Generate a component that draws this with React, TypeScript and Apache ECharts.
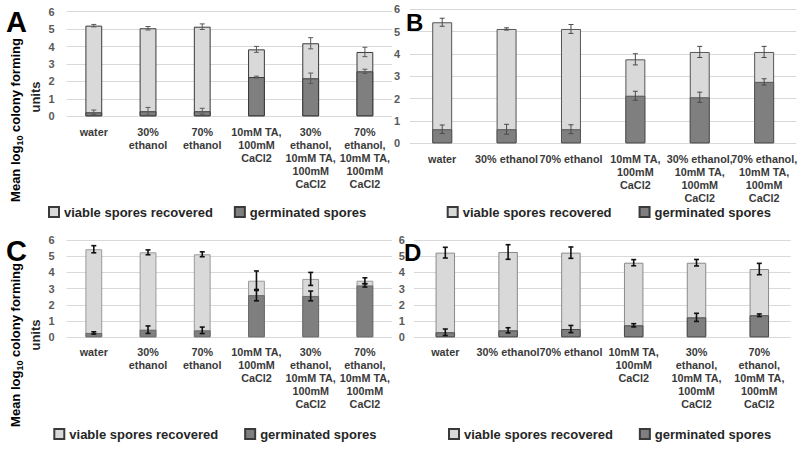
import React, { useEffect, useRef } from 'react';
import * as echarts from 'echarts';

const FONT = '"Liberation Sans", Arial, Helvetica, sans-serif';
const VIABLE = 'viable spores recovered';
const GERM = 'germinated spores';

const yTicks = [0, 6, 1]; // min, max, interval

const catsNarrow = [
  'water',
  '30%\nethanol',
  '70%\nethanol',
  '10mM TA,\n100mM\nCaCl2',
  '30%\nethanol,\n10mM TA,\n100mM\nCaCl2',
  '70%\nethanol,\n10mM TA,\n100mM\nCaCl2',
];
const catsB = [
  'water',
  '30% ethanol',
  '70% ethanol',
  '10mM TA,\n100mM\nCaCl2',
  '30% ethanol,\n10mM TA,\n100mM\nCaCl2',
  '70% ethanol,\n10mM TA,\n100mM\nCaCl2',
];
const catsD = [
  'water',
  '30% ethanol',
  '70% ethanol',
  '10mM TA,\n100mM\nCaCl2',
  '30%\nethanol,\n10mM TA,\n100mM\nCaCl2',
  '70%\nethanol,\n10mM TA,\n100mM\nCaCl2',
];

const viableA = [5.2, 5.05, 5.14, 3.84, 4.19, 3.69];
const viableErrA = [0.07, 0.1, 0.16, 0.17, 0.32, 0.27];
const germA = [0.23, 0.29, 0.29, 2.25, 2.18, 2.58];
const germErrA = [0.13, 0.22, 0.17, 0.05, 0.3, 0.12];

const viableB = [5.42, 5.12, 5.12, 3.76, 4.09, 4.09];
const viableErrB = [0.18, 0.05, 0.2, 0.25, 0.25, 0.25];
const germB = [0.63, 0.63, 0.63, 2.13, 2.06, 2.75];
const germErrB = [0.19, 0.22, 0.2, 0.2, 0.23, 0.14];

const viableC = [5.43, 5.24, 5.12, 3.49, 3.6, 3.49];
const viableErrC = [0.22, 0.15, 0.15, 0.6, 0.4, 0.18];
const germC = [0.27, 0.47, 0.43, 2.6, 2.55, 3.2];
const germErrC = [0.07, 0.23, 0.2, 0.35, 0.3, 0.1];

const viableD = [5.22, 5.26, 5.22, 4.6, 4.6, 4.21];
const viableErrD = [0.33, 0.45, 0.35, 0.19, 0.2, 0.35];
const germD = [0.31, 0.43, 0.51, 0.74, 1.23, 1.36];
const germErrD = [0.2, 0.16, 0.22, 0.1, 0.25, 0.08];

type Panel = {
  cats: string[];
  viable: number[];
  viableErr: number[];
  germ: number[];
  germErr: number[];
  grid: { left: number; top: number; width: number; height: number };
  yLabelMargin: number;
  xLabelMargin: number;
  lightBorder: string;
  darkBorder: string;
  errColor: string;
  errWidth: number;
  legend: { left: number; top: number; gap: number };
};

const panels: Panel[] = [
  {
    cats: catsNarrow, viable: viableA, viableErr: viableErrA, germ: germA, germErr: germErrA,
    grid: { left: 66.7, top: 11.7, width: 325.3, height: 104.6 },
    yLabelMargin: 12, xLabelMargin: 9,
    lightBorder: '#3a3a3a', darkBorder: '#3a3a3a', errColor: '#5a5a5a', errWidth: 1,
    legend: { left: 48, top: 205.5, gap: 21 },
  },
  {
    cats: catsB, viable: viableB, viableErr: viableErrB, germ: germB, germErr: germErrB,
    grid: { left: 410, top: 9.3, width: 388, height: 134 },
    yLabelMargin: 10, xLabelMargin: 9,
    lightBorder: '#555555', darkBorder: '#555555', errColor: '#4a4a4a', errWidth: 1,
    legend: { left: 446.7, top: 205.5, gap: 27 },
  },
  {
    cats: catsNarrow, viable: viableC, viableErr: viableErrC, germ: germC, germErr: germErrC,
    grid: { left: 66.7, top: 240, width: 325.3, height: 97.3 },
    yLabelMargin: 12, xLabelMargin: 8,
    lightBorder: '#9a9a9a', darkBorder: '#6a6a6a', errColor: '#111111', errWidth: 1.6,
    legend: { left: 53.3, top: 427.5, gap: 26 },
  },
  {
    cats: catsD, viable: viableD, viableErr: viableErrD, germ: germD, germErr: germErrD,
    grid: { left: 413.9, top: 240, width: 376.8, height: 97.3 },
    yLabelMargin: 9, xLabelMargin: 8,
    lightBorder: '#8a8a8a', darkBorder: '#4a4a4a', errColor: '#111111', errWidth: 1.6,
    legend: { left: 448, top: 427.5, gap: 26 },
  },
];

function errSeries(i: number, vals: number[], errs: number[], color: string, lw: number) {
  return {
    type: 'custom',
    xAxisIndex: i,
    yAxisIndex: i,
    silent: true,
    z: 5,
    data: vals.map((v, k) => [k, v - errs[k], v + errs[k]]),
    encode: { x: 0, y: [1, 2] },
    renderItem: (params: any, api: any) => {
      const x = api.value(0);
      const a = api.coord([x, api.value(2)]);
      const b = api.coord([x, api.value(1)]);
      const h = 2.5;
      const style = { stroke: color, lineWidth: lw };
      return {
        type: 'group',
        children: [
          { type: 'line', shape: { x1: a[0], y1: a[1], x2: b[0], y2: b[1] }, style },
          { type: 'line', shape: { x1: a[0] - h, y1: a[1], x2: a[0] + h, y2: a[1] }, style },
          { type: 'line', shape: { x1: b[0] - h, y1: b[1], x2: b[0] + h, y2: b[1] }, style },
        ],
      };
    },
  };
}

function buildOption() {
  const grid: any[] = [];
  const xAxis: any[] = [];
  const yAxis: any[] = [];
  const series: any[] = [];
  const legend: any[] = [];

  panels.forEach((p, i) => {
    grid.push({ ...p.grid, containLabel: false });
    xAxis.push({
      type: 'category',
      gridIndex: i,
      data: p.cats,
      axisLine: { show: false },
      axisTick: { show: false },
      axisLabel: {
        interval: 0,
        margin: p.xLabelMargin,
        fontFamily: FONT,
        fontWeight: 'bold',
        fontSize: 10.8,
        lineHeight: 13,
        color: '#3a3a3a',
      },
    });
    yAxis.push({
      type: 'value',
      gridIndex: i,
      min: yTicks[0],
      max: yTicks[1],
      interval: yTicks[2],
      axisLine: { show: false },
      axisTick: { show: false },
      splitLine: { lineStyle: { color: '#d9d9d9', width: 1 } },
      axisLabel: {
        margin: p.yLabelMargin,
        fontFamily: FONT,
        fontWeight: 'bold',
        fontSize: 11,
        color: '#595959',
      },
    });
    series.push({
      type: 'bar',
      name: VIABLE,
      xAxisIndex: i,
      yAxisIndex: i,
      data: p.viable,
      barWidth: '31%',
      barGap: '-100%',
      itemStyle: { color: '#d9d9d9', borderColor: p.lightBorder, borderWidth: 1 },
    });
    series.push({
      type: 'bar',
      name: GERM,
      xAxisIndex: i,
      yAxisIndex: i,
      data: p.germ,
      barWidth: '31%',
      barGap: '-100%',
      itemStyle: { color: '#7f7f7f', borderColor: p.darkBorder, borderWidth: 1 },
    });
    series.push(errSeries(i, p.viable, p.viableErr, p.errColor, p.errWidth));
    series.push(errSeries(i, p.germ, p.germErr, p.errColor, p.errWidth));
    legend.push({
      left: p.legend.left,
      top: p.legend.top,
      padding: 0,
      itemGap: p.legend.gap,
      itemWidth: 10,
      itemHeight: 10,
      icon: 'rect',
      selectedMode: false,
      data: [VIABLE, GERM],
      textStyle: { fontFamily: FONT, fontWeight: 'bold', fontSize: 13, lineHeight: 13, color: '#262626' },
    });
  });

  const titleRich = {
    b: { fontFamily: FONT, fontWeight: 'bold', fontSize: 13, color: '#262626', lineHeight: 18 },
    s: { fontFamily: FONT, fontWeight: 'bold', fontSize: 9, color: '#262626', lineHeight: 18, verticalAlign: 'bottom', padding: [6, 0, 0, 0] },
  };
  const letter = (t: string, x: number, y: number, size: number) => ({
    type: 'text',
    x,
    y,
    z: 100,
    style: {
      text: t,
      fontFamily: FONT,
      fontWeight: 'bold',
      fontSize: size,
      fill: '#000',
      align: 'left',
      verticalAlign: 'middle',
    },
  });
  const yTitle = (x1: number, y1: number, x2: number, y2: number) => [
    {
      type: 'text',
      x: x1,
      y: y1,
      rotation: Math.PI / 2,
      style: {
        text: '{b|Mean log}{s|10}{b| colony forming}',
        rich: titleRich,
        align: 'center',
        verticalAlign: 'middle',
      },
    },
    {
      type: 'text',
      x: x2,
      y: y2,
      rotation: Math.PI / 2,
      style: {
        text: 'units',
        fontFamily: FONT,
        fontWeight: 'bold',
        fontSize: 13,
        fill: '#262626',
        align: 'center',
        verticalAlign: 'middle',
      },
    },
  ];

  return {
    animation: false,
    backgroundColor: '#ffffff',
    grid,
    xAxis,
    yAxis,
    legend,
    series,
    graphic: [
      letter('A', 6, 22, 29),
      letter('B', 406, 22, 24),
      letter('C', 6, 251, 29),
      letter('D', 404, 252, 24),
      ...yTitle(15, 120, 35, 97),
      ...yTitle(15, 345, 35, 335),
    ],
  };
}

export default function App() {
  const ref = useRef<HTMLDivElement>(null);
  useEffect(() => {
    if (!ref.current) return;
    const chart = echarts.init(ref.current, null, { renderer: 'svg' });
    chart.setOption(buildOption() as any);
    return () => chart.dispose();
  }, []);
  return (
    <div
      ref={ref}
      style={{ position: 'fixed', left: 0, top: 0, width: 800, height: 450, background: '#fff' }}
    />
  );
}
